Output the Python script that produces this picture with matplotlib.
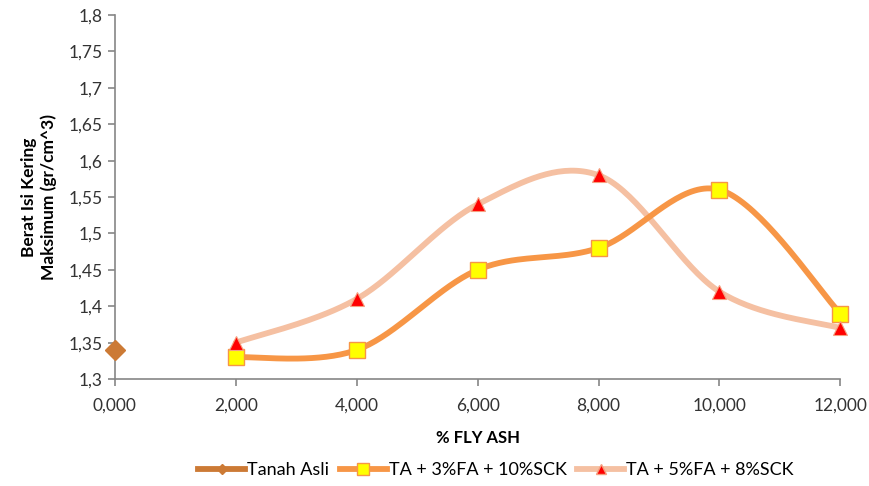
import numpy as np
import matplotlib
matplotlib.use("Agg")
import matplotlib.pyplot as plt
from matplotlib.ticker import FuncFormatter, MultipleLocator
from matplotlib.lines import Line2D

# Data
fly_ash = [2, 4, 6, 8, 10, 12]
tanah_asli_x = [0]
tanah_asli_y = [1.34]
ta_3fa_10sck = [1.33, 1.34, 1.45, 1.48, 1.56, 1.39]
ta_5fa_8sck = [1.35, 1.41, 1.54, 1.58, 1.42, 1.37]
x_ticks = [0, 2, 4, 6, 8, 10, 12]
labels = ["Tanah Asli", "TA + 3%FA + 10%SCK", "TA + 5%FA + 8%SCK"]


def smooth(xs, ys, n=40):
    """Catmull-Rom style Bezier smoothing through every point."""
    xs = np.asarray(xs, float)
    ys = np.asarray(ys, float)
    px = np.concatenate([[xs[0]], xs, [xs[-1]]])
    py = np.concatenate([[ys[0]], ys, [ys[-1]]])
    outx, outy = [], []
    t = np.linspace(0, 1, n)
    for i in range(1, len(px) - 2):
        p0 = np.array([px[i], py[i]])
        p3 = np.array([px[i + 1], py[i + 1]])
        c1 = p0 + (np.array([px[i + 1], py[i + 1]]) - np.array([px[i - 1], py[i - 1]])) / 6
        c2 = p3 - (np.array([px[i + 2], py[i + 2]]) - np.array([px[i], py[i]])) / 6
        b = ((1 - t) ** 3)[:, None] * p0 + (3 * (1 - t) ** 2 * t)[:, None] * c1 \
            + (3 * (1 - t) * t ** 2)[:, None] * c2 + (t ** 3)[:, None] * p3
        outx.extend(b[:, 0])
        outy.extend(b[:, 1])
    return np.array(outx), np.array(outy)


plt.rcParams["font.family"] = ["Lato", "DejaVu Sans"]

fig = plt.figure(figsize=(8.7, 4.86), dpi=100)
ax = fig.add_axes([0.132, 0.22, 0.834, 0.749])

c_brown = "#CC7A35"
c_orange = "#F79646"
c_salmon = "#F5C0A2"

sx, sy = smooth(fly_ash, ta_5fa_8sck)
ax.plot(sx, sy, color=c_salmon, lw=4.2, solid_capstyle="round", zorder=2, clip_on=False)
sx, sy = smooth(fly_ash, ta_3fa_10sck)
ax.plot(sx, sy, color=c_orange, lw=4.2, solid_capstyle="round", zorder=3, clip_on=False)

ax.plot(fly_ash, ta_5fa_8sck, ls="none", marker="^", ms=10, mfc="#FF0000",
        mec="#F5A080", mew=0.8, zorder=5, clip_on=False)
ax.plot(fly_ash, ta_3fa_10sck, ls="none", marker="s", ms=12, mfc="#FFFF00",
        mec="#F79646", mew=1.0, zorder=4, clip_on=False)
ax.plot(tanah_asli_x, tanah_asli_y, ls="none", marker="D", ms=10, mfc=c_brown,
        mec=c_brown, zorder=6, clip_on=False)

ax.set_xlim(0, 12)
ax.set_ylim(1.3, 1.8)
ax.set_xticks(x_ticks)
ax.yaxis.set_major_locator(MultipleLocator(0.05))
ax.xaxis.set_major_formatter(FuncFormatter(lambda v, p: f"{v:,.3f}".replace(".", ",")))
ax.yaxis.set_major_formatter(FuncFormatter(
    lambda v, p: (f"{v:.2f}".rstrip("0").rstrip(".")).replace(".", ",")))

for s in ["top", "right"]:
    ax.spines[s].set_visible(False)
for s in ["left", "bottom"]:
    ax.spines[s].set_color("#868686")
    ax.spines[s].set_linewidth(1.2)
ax.tick_params(axis="both", colors="#868686", labelcolor="#333333",
               labelsize=12.5, length=5, width=1.2)
ax.tick_params(axis="x", pad=8)
ax.tick_params(axis="y", pad=4)

ax.set_xlabel("% FLY ASH", fontsize=12, fontweight="bold", labelpad=12)
ax.set_ylabel("Berat Isi Kering\nMaksimum (gr/cm^3)", fontsize=12.5,
              fontweight="bold", labelpad=8, linespacing=1.25)

handles = [
    Line2D([], [], color=c_brown, lw=4.2, marker="D", ms=5, mfc=c_brown, mec=c_brown),
    Line2D([], [], color=c_orange, lw=4.2, marker="s", ms=8, mfc="#FFFF00", mec="#F79646"),
    Line2D([], [], color=c_salmon, lw=4.2, marker="^", ms=7, mfc="#FF0000", mec="#F5A080"),
]
fig.legend(handles, labels, loc="center", bbox_to_anchor=(0.57, 0.032), ncol=3,
           frameon=False, fontsize=13, handlelength=2.6, handletextpad=0.1,
           columnspacing=0.6)

fig.savefig("out.png", dpi=100)
